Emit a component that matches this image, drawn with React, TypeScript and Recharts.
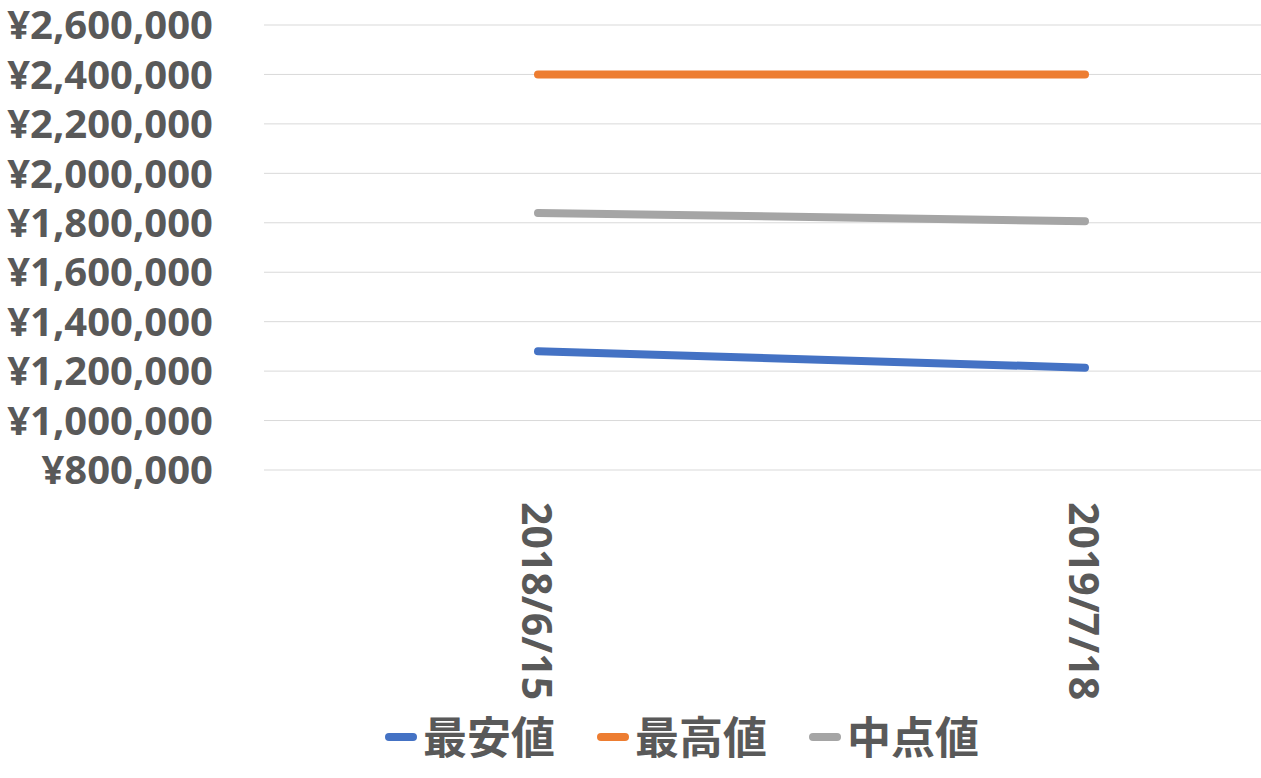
import React from 'react';
import { LineChart, Line, XAxis, YAxis, CartesianGrid } from 'recharts';

const dates = ['2018/6/15', '2019/7/18'];
const lowest = [1280000, 1214000];
const highest = [2400000, 2400000];
const middle = [1840000, 1806000];
const yTicks = [800000, 1000000, 1200000, 1400000, 1600000, 1800000, 2000000, 2200000, 2400000, 2600000];

const series = [
  { key: 'low', name: '最安値', color: '#4472C4' },
  { key: 'high', name: '最高値', color: '#ED7D31' },
  { key: 'mid', name: '中点値', color: '#A5A5A5' },
];

const data = dates.map((d, i) => ({ date: d, low: lowest[i], high: highest[i], mid: middle[i] }));

const FONT = '"Noto Sans", "Noto Sans CJK JP", sans-serif';
const TEXT = '#595959';

const yen = (v: number) => '¥' + v.toLocaleString('en-US');

const DateTick = (props: any) => {
  const { x, y, payload } = props;
  return (
    <text
      x={x}
      y={y + 30}
      transform={`rotate(90, ${x}, ${y + 30})`}
      textAnchor="start"
      dominantBaseline="central"
      fill={TEXT}
      fontFamily={FONT}
      fontWeight="bold"
      fontSize={41}
    >
      {payload.value}
    </text>
  );
};

export default function App() {
  return (
    <div style={{ position: 'absolute', left: 0, top: 0, width: 1261, height: 778, overflow: 'hidden', background: '#fff' }}>
      <LineChart width={1358} height={778} data={data} margin={{ top: 25, right: 0, left: 0, bottom: 78 }}>
        <CartesianGrid vertical={false} stroke="#D9D9D9" strokeWidth={1} />
        <XAxis
          dataKey="date"
          axisLine={false}
          tickLine={false}
          tickSize={0}
          height={230}
          interval={0}
          padding={{ left: 274, right: 273 }}
          tick={<DateTick />}
        />
        <YAxis
          width={264}
          domain={[800000, 2600000]}
          ticks={yTicks}
          interval={0}
          axisLine={false}
          tickLine={false}
          tickSize={0}
          tickMargin={51}
          tickFormatter={yen}
          tick={{ fill: TEXT, fontSize: 40, fontWeight: 'bold', fontFamily: FONT }}
        />
        {series.map((s) => (
          <Line
            key={s.key}
            dataKey={s.key}
            name={s.name}
            stroke={s.color}
            strokeWidth={8}
            strokeLinecap="round"
            dot={false}
            activeDot={false}
            isAnimationActive={false}
          />
        ))}
      </LineChart>
      <div
        style={{
          position: 'absolute',
          top: 708,
          left: 385,
          display: 'flex',
          alignItems: 'center',
          gap: 42,
          fontFamily: FONT,
          fontWeight: 'bold',
          fontSize: 44,
          color: TEXT,
          lineHeight: '58px',
        }}
      >
        {series.map((s) => (
          <div key={s.key} style={{ display: 'flex', alignItems: 'center' }}>
            <span style={{ display: 'inline-block', width: 32, height: 8, borderRadius: 4, background: s.color, marginRight: 6 }} />
            <span>{s.name}</span>
          </div>
        ))}
      </div>
    </div>
  );
}
